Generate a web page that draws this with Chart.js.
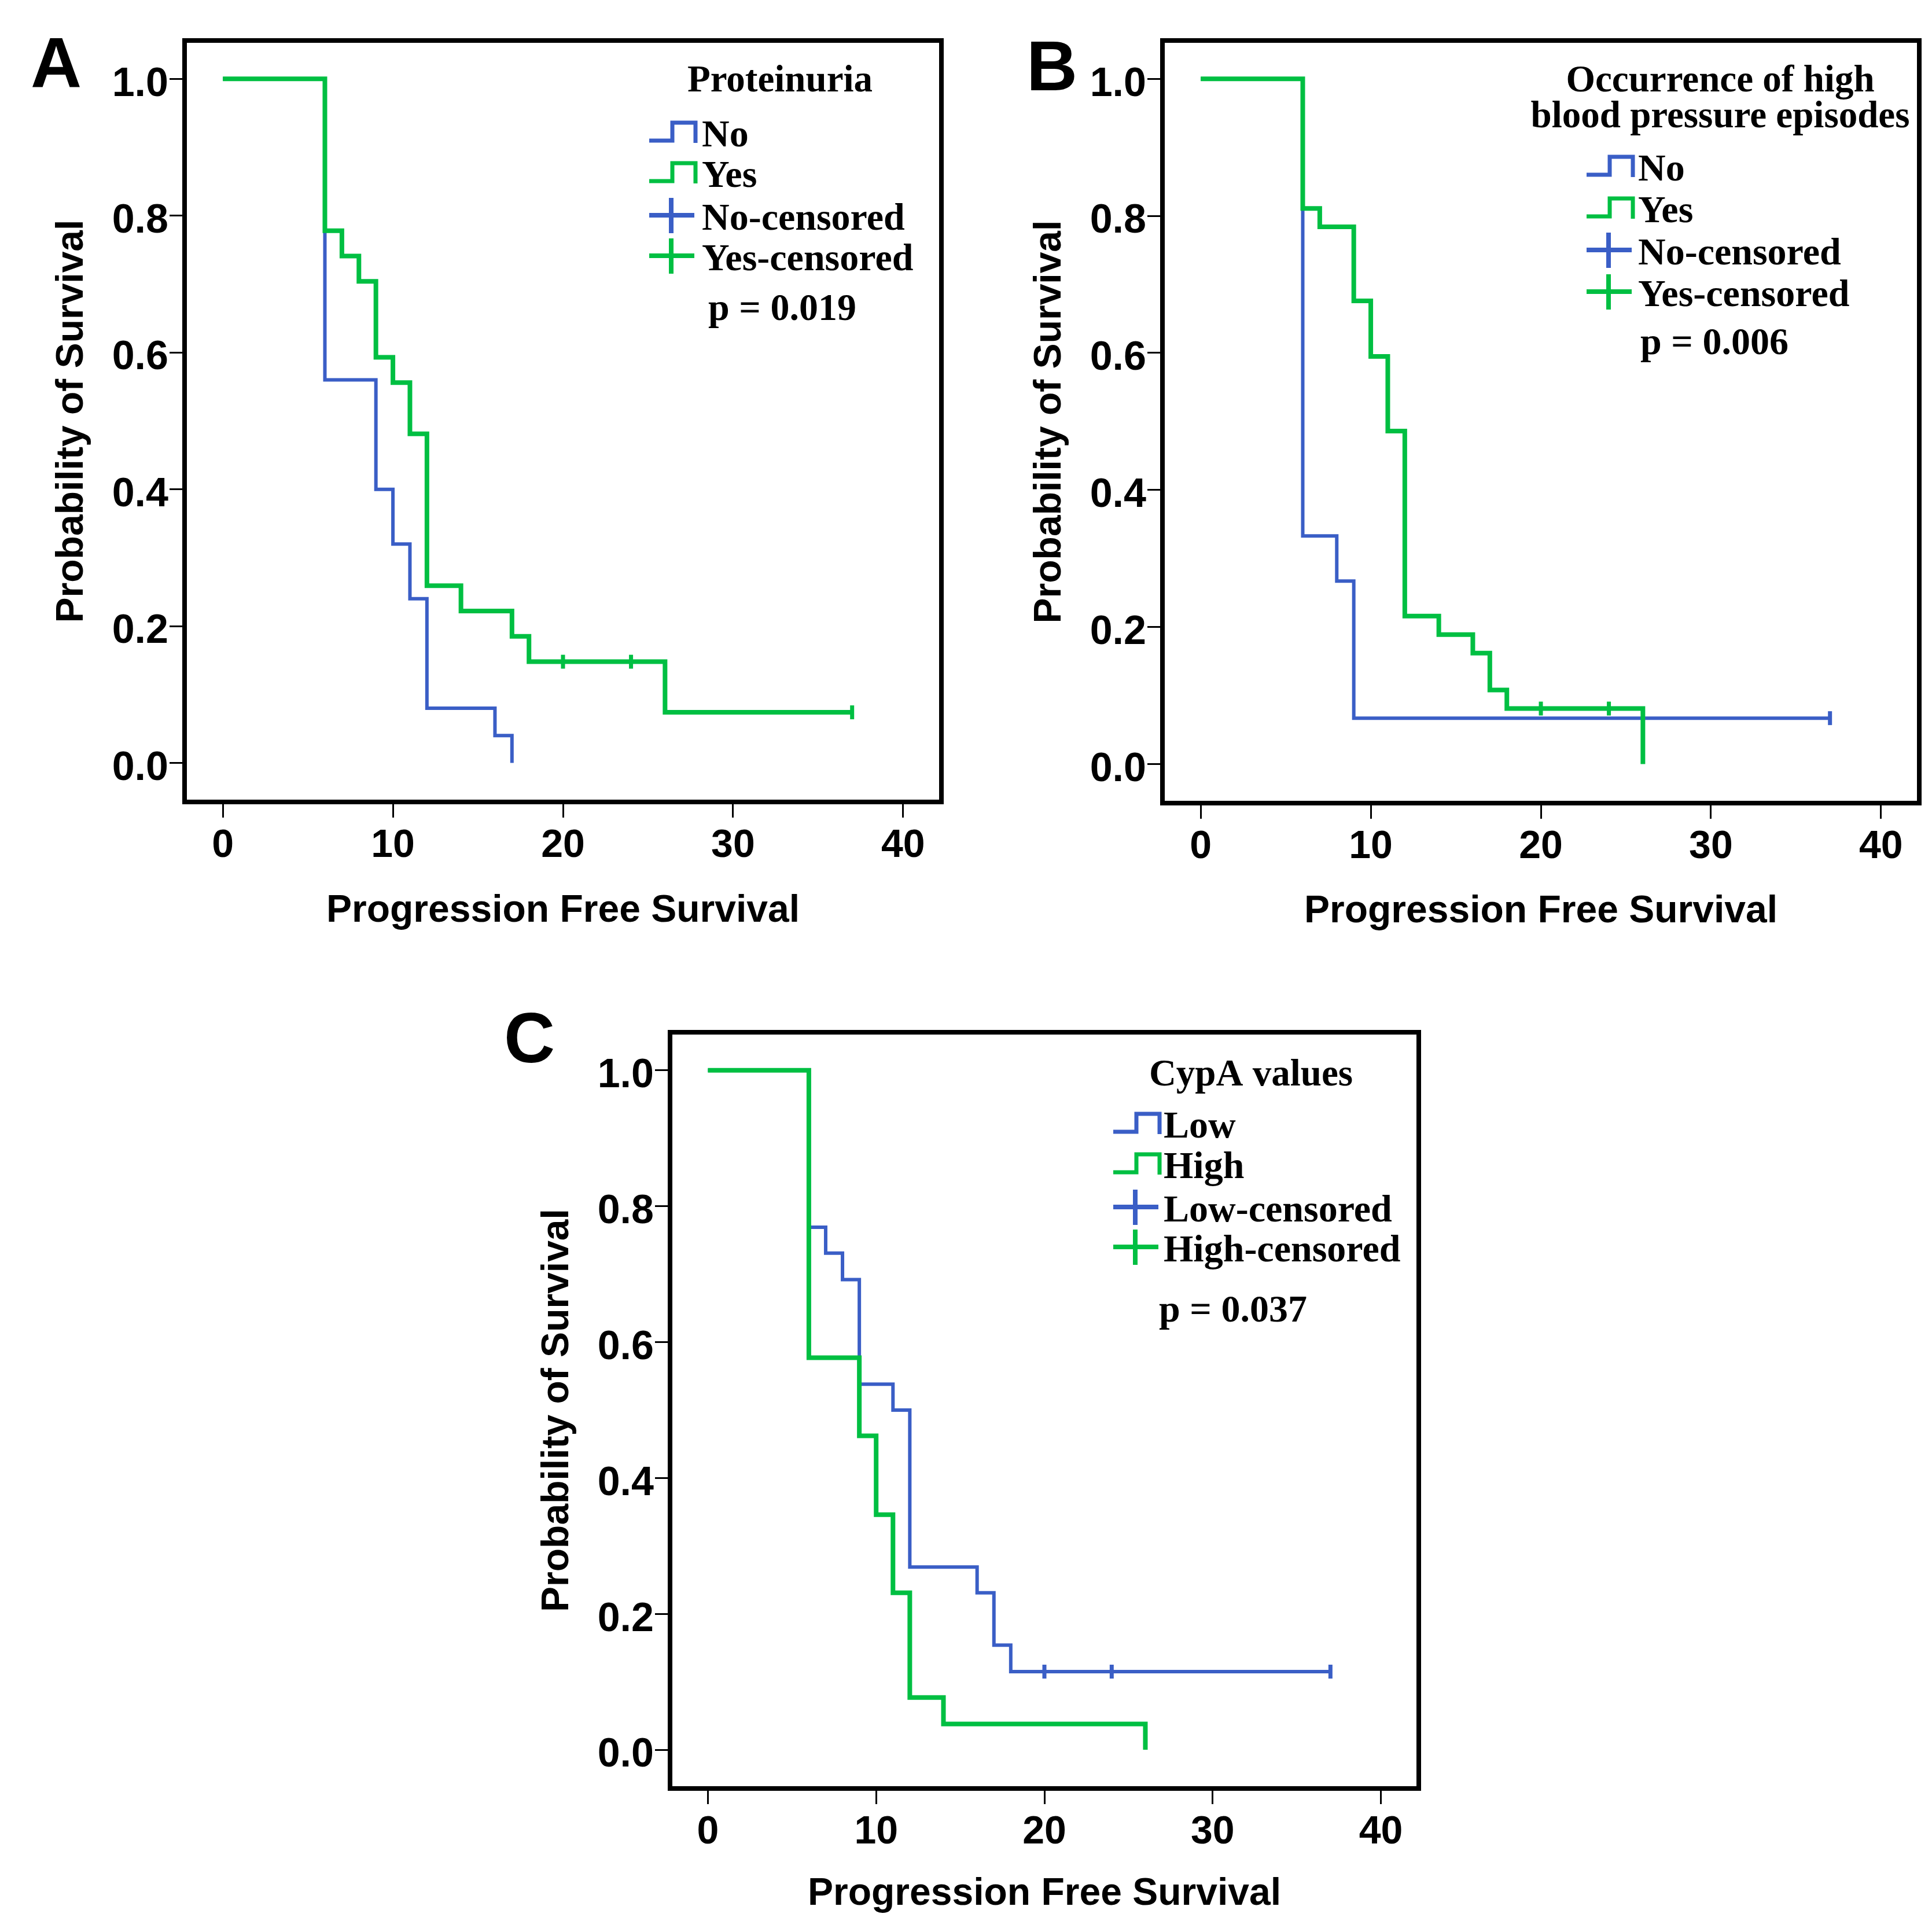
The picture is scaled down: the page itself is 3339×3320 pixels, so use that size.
<!DOCTYPE html>
<html>
<head>
<meta charset="utf-8">
<script src="https://cdn.jsdelivr.net/npm/chart.js@4.4.1/dist/chart.umd.min.js"></script>
<style>
html, body { margin: 0; padding: 0; background: #ffffff; }
body { width: 3339px; height: 3320px; position: relative; overflow: hidden; }
.panel { position: absolute; }
.panel canvas { display: block; }
</style>
</head>
<body>
<div class="panel" style="left:0px;top:0px;"><canvas id="chartA" width="1700" height="1700"></canvas></div>
<div class="panel" style="left:1690px;top:0px;"><canvas id="chartB" width="1649" height="1702"></canvas></div>
<div class="panel" style="left:839px;top:1714px;"><canvas id="chartC" width="1673" height="1606"></canvas></div>
<script>
// ---------- shared axis data ----------
const xTicks = [0, 10, 20, 30, 40];
const xTickLabels = ['0', '10', '20', '30', '40'];
const yTicks = [0, 0.2, 0.4, 0.6, 0.8, 1.0];
const yTickLabels = ['0.0', '0.2', '0.4', '0.6', '0.8', '1.0'];
const xAxisTitle = 'Progression Free Survival';
const yAxisTitle = 'Probability of Survival';

// ---------- Panel A : Proteinuria ----------
const aLegendTitle = ['Proteinuria'];
const aGroups = ['No', 'Yes', 'No-censored', 'Yes-censored'];
const aPValue = 'p = 0.019';
const aNoTime = [0, 6, 9, 10, 11, 12, 16, 17];
const aNoSurv = [1, 0.56, 0.40, 0.32, 0.24, 0.08, 0.04, 0];
const aYesTime = [0, 6, 7, 8, 9, 10, 11, 12, 14, 17, 18, 26, 37];
const aYesSurv = [1, 0.778, 0.741, 0.704, 0.593, 0.556, 0.481, 0.259, 0.222, 0.185, 0.148, 0.074, 0.074];
const aNoCensTime = [];
const aNoCensSurv = [];
const aYesCensTime = [20, 24, 37];
const aYesCensSurv = [0.148, 0.148, 0.074];

// ---------- Panel B : High blood pressure episodes ----------
const bLegendTitle = ['Occurrence of high', 'blood pressure episodes'];
const bGroups = ['No', 'Yes', 'No-censored', 'Yes-censored'];
const bPValue = 'p = 0.006';
const bNoTime = [0, 6, 8, 9, 37];
const bNoSurv = [1, 0.333, 0.267, 0.067, 0.067];
const bYesTime = [0, 6, 7, 9, 10, 11, 12, 14, 16, 17, 18, 26];
const bYesSurv = [1, 0.811, 0.784, 0.676, 0.595, 0.486, 0.216, 0.189, 0.162, 0.108, 0.081, 0];
const bNoCensTime = [37];
const bNoCensSurv = [0.067];
const bYesCensTime = [20, 24];
const bYesCensSurv = [0.081, 0.081];

// ---------- Panel C : CypA values ----------
const cLegendTitle = ['CypA values'];
const cGroups = ['Low', 'High', 'Low-censored', 'High-censored'];
const cPValue = 'p = 0.037';
const cLowTime = [0, 6, 7, 8, 9, 11, 12, 16, 17, 18, 37];
const cLowSurv = [1, 0.769, 0.731, 0.692, 0.538, 0.5, 0.269, 0.231, 0.154, 0.115, 0.115];
const cHighTime = [0, 6, 9, 10, 11, 12, 14, 26];
const cHighSurv = [1, 0.577, 0.462, 0.346, 0.231, 0.077, 0.038, 0];
const cLowCensTime = [20, 24, 37];
const cLowCensSurv = [0.115, 0.115, 0.115];
const cHighCensTime = [];
const cHighCensSurv = [];

// ---------- styling ----------
const BLUE = '#3a5ec6';
const GREEN = '#00bf42';
const SANS = '"Liberation Sans", Arial, sans-serif';
const SERIF = '"Liberation Serif", "Times New Roman", serif';

function pts(t, s) { return t.map((v, i) => ({ x: v, y: s[i] })); }

const kmDecor = {
  id: 'kmDecor',
  afterDraw(chart, args, o) {
    const ctx = chart.ctx;
    const ca = chart.chartArea;
    ctx.save();
    // frame
    ctx.lineWidth = 8;
    ctx.strokeStyle = '#000';
    ctx.strokeRect(ca.left, ca.top, ca.right - ca.left, ca.bottom - ca.top);
    // panel letter
    ctx.fillStyle = '#000';
    ctx.textAlign = 'left';
    ctx.textBaseline = 'alphabetic';
    ctx.font = 'bold 122px ' + SANS;
    ctx.fillText(o.letter, o.letterX, o.letterY);
    // legend title
    ctx.font = 'bold 65px ' + SERIF;
    ctx.textAlign = 'center';
    o.title.forEach((t, i) => ctx.fillText(t, ca.left + o.titleX, ca.top + o.titleY[i]));
    // legend items
    const items = chart.data.datasets.slice().sort((p, q) => p.legendIndex - q.legendIndex);
    ctx.textAlign = 'left';
    ctx.font = 'bold 66px ' + SERIF;
    items.forEach((ds, i) => {
      const by = ca.top + o.itemY[i];
      const ix = ca.left + o.iconX;
      ctx.strokeStyle = ds.legendColor;
      ctx.lineCap = 'butt';
      ctx.lineJoin = 'miter';
      ctx.beginPath();
      if (ds.legendType === 'step') {
        ctx.lineWidth = 7;
        ctx.moveTo(ix, by - 10);
        ctx.lineTo(ix + 40, by - 10);
        ctx.lineTo(ix + 40, by - 41);
        ctx.lineTo(ix + 80, by - 41);
        ctx.lineTo(ix + 80, by - 6);
      } else {
        ctx.lineWidth = 8;
        ctx.moveTo(ix, by - 25);
        ctx.lineTo(ix + 78, by - 25);
        ctx.moveTo(ix + 38, by - 55);
        ctx.lineTo(ix + 38, by + 6);
      }
      ctx.stroke();
      ctx.fillStyle = '#000';
      ctx.fillText(ds.label, ca.left + o.textX, by);
    });
    // p value
    ctx.textAlign = 'center';
    ctx.fillText(o.pText, ca.left + o.pX, ca.top + o.pY);
    ctx.restore();
  }
};

function makeChart(id, d, g) {
  const datasets = [
    { label: d.groups[1], data: pts(d.t2, d.s2), borderColor: GREEN, borderWidth: 8, stepped: 'before',
      pointRadius: 0, fill: false, order: 1, legendIndex: 1, legendType: 'step', legendColor: GREEN },
    { label: d.groups[0], data: pts(d.t1, d.s1), borderColor: BLUE, borderWidth: 6, stepped: 'before',
      pointRadius: 0, fill: false, order: 2, legendIndex: 0, legendType: 'step', legendColor: BLUE },
    { label: d.groups[2], data: pts(d.ct1, d.cs1), showLine: false, pointStyle: 'line', rotation: 90,
      pointRadius: 12, pointBorderWidth: 7, borderColor: BLUE, backgroundColor: BLUE, order: 0,
      legendIndex: 2, legendType: 'plus', legendColor: BLUE },
    { label: d.groups[3], data: pts(d.ct2, d.cs2), showLine: false, pointStyle: 'line', rotation: 90,
      pointRadius: 12, pointBorderWidth: 7, borderColor: GREEN, backgroundColor: GREEN, order: -1,
      legendIndex: 3, legendType: 'plus', legendColor: GREEN }
  ];
  return new Chart(document.getElementById(id), {
    type: 'line',
    data: { datasets },
    plugins: [kmDecor],
    options: {
      responsive: false,
      animation: false,
      devicePixelRatio: 1,
      layout: { padding: { top: 70, right: g.padRight, left: 0, bottom: 0 } },
      plugins: {
        legend: { display: false },
        tooltip: { enabled: false },
        kmDecor: g.decor
      },
      scales: {
        x: {
          type: 'linear', min: -2.25, max: 42.25,
          afterBuildTicks: s => { s.ticks = xTicks.map(v => ({ value: v })); },
          afterFit: s => { s.height = g.xAxisH; },
          grid: { display: true, drawOnChartArea: false, drawTicks: true, tickLength: 27, tickWidth: 3, tickColor: '#000' },
          border: { display: false },
          ticks: { color: '#000', padding: 8, maxRotation: 0, autoSkip: false,
                   font: { family: SANS, weight: 'bold', size: 68 },
                   callback: v => xTickLabels[xTicks.indexOf(v)] },
          title: { display: true, text: xAxisTitle, color: '#000',
                   font: { family: SANS, weight: 'bold', size: 66 },
                   padding: { top: 0, bottom: g.xTitlePadB } }
        },
        y: {
          type: 'linear', min: -0.057, max: 1.056,
          afterBuildTicks: s => { s.ticks = yTicks.map(v => ({ value: v })); },
          afterFit: s => { s.width = 319; },
          grid: { display: true, drawOnChartArea: false, drawTicks: true, tickLength: 26, tickWidth: 3, tickColor: '#000' },
          border: { display: false },
          ticks: { color: '#000', padding: 2, labelOffset: 10, autoSkip: false,
                   font: { family: SANS, weight: 'bold', size: 70 },
                   callback: v => yTickLabels[yTicks.findIndex(t => Math.abs(t - v) < 1e-9)] },
          title: { display: true, text: yAxisTitle, color: '#000',
                   font: { family: SANS, weight: 'bold', size: 66 },
                   padding: { top: 85, bottom: 0 } }
        }
      }
    }
  });
}

makeChart('chartA',
  { groups: aGroups, t1: aNoTime, s1: aNoSurv, t2: aYesTime, s2: aYesSurv,
    ct1: aNoCensTime, cs1: aNoCensSurv, ct2: aYesCensTime, cs2: aYesCensSurv },
  { padRight: 73, xAxisH: 314, xTitlePadB: 86,
    decor: { letter: 'A', letterX: 53, letterY: 151, title: aLegendTitle, titleX: 1029, titleY: [88],
             iconX: 803, textX: 894, itemY: [183, 253, 327, 397], pText: aPValue, pX: 1033, pY: 483 } });

makeChart('chartB',
  { groups: bGroups, t1: bNoTime, s1: bNoSurv, t2: bYesTime, s2: bYesSurv,
    ct1: bNoCensTime, cs1: bNoCensSurv, ct2: bYesCensTime, cs2: bYesCensSurv },
  { padRight: 22, xAxisH: 314, xTitlePadB: 87,
    decor: { letter: 'B', letterX: 84, letterY: 156, title: bLegendTitle, titleX: 964, titleY: [88, 150],
             iconX: 733, textX: 822, itemY: [242, 314, 387, 459], pText: bPValue, pX: 954, pY: 542 } });

makeChart('chartC',
  { groups: cGroups, t1: cLowTime, s1: cLowSurv, t2: cHighTime, s2: cHighSurv,
    ct1: cLowCensTime, cs1: cLowCensSurv, ct2: cHighCensTime, cs2: cHighCensSurv },
  { padRight: 60, xAxisH: 229, xTitlePadB: 7,
    decor: { letter: 'C', letterX: 32, letterY: 122, title: cLegendTitle, titleX: 1004, titleY: [92],
             iconX: 766, textX: 853, itemY: [182, 252, 327, 396], pText: cPValue, pX: 973, pY: 500 } });
</script>
</body>
</html>
